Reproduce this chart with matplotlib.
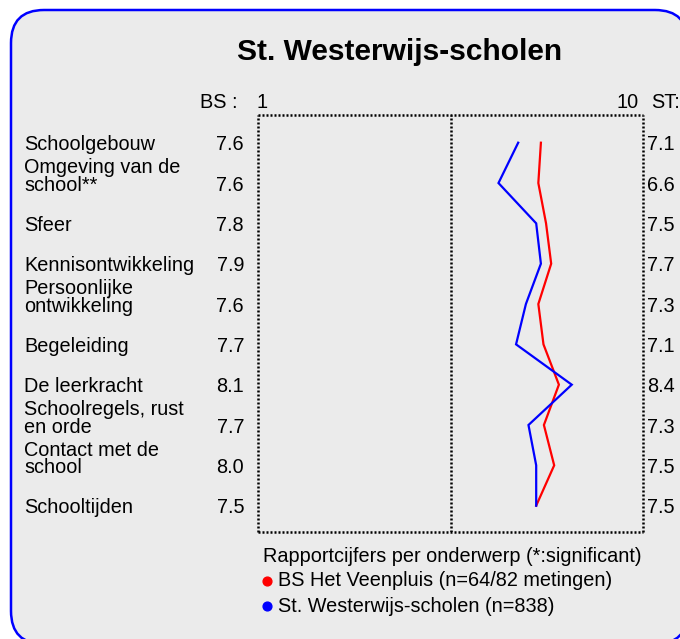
import matplotlib
matplotlib.use("Agg")
import matplotlib.pyplot as plt
from matplotlib.patches import FancyBboxPatch
from matplotlib import transforms

plt.rcParams['font.family'] = ['Liberation Sans', 'DejaVu Sans']

title = "St. Westerwijs-scholen"
topics = ["Schoolgebouw", "Omgeving van de\nschool**", "Sfeer", "Kennisontwikkeling",
          "Persoonlijke\nontwikkeling", "Begeleiding", "De leerkracht",
          "Schoolregels, rust\nen orde", "Contact met de\nschool", "Schooltijden"]
bs_scores = ["7.6", "7.6", "7.8", "7.9", "7.6", "7.7", "8.1", "7.7", "8.0", "7.5"]
st_scores = ["7.1", "6.6", "7.5", "7.7", "7.3", "7.1", "8.4", "7.3", "7.5", "7.5"]
# line positions (scale 1..10)
bs_values = [7.61, 7.55, 7.73, 7.85, 7.55, 7.67, 8.03, 7.68, 7.92, 7.50]
st_values = [7.08, 6.62, 7.50, 7.61, 7.26, 7.03, 8.33, 7.32, 7.50, 7.50]
scale_min, scale_max = 1, 10
legend_title = "Rapportcijfers per onderwerp (*:significant)"
series_names = ["BS Het Veenpluis (n=64/82 metingen)", "St. Westerwijs-scholen (n=838)"]
series_colors = ["#ff0000", "#0000ff"]

W, H = 680, 639
fig = plt.figure(figsize=(W / 100, H / 100), dpi=100)
fig.patch.set_facecolor("white")

ax0 = fig.add_axes([0, 0, 1, 1])
ax0.set_xlim(0, W)
ax0.set_ylim(H, 0)
ax0.axis("off")

box = FancyBboxPatch((11, 10), 677, 634, boxstyle="round,pad=0,rounding_size=33",
                     facecolor="#ebebeb", edgecolor="#0000ff", linewidth=1.8)
ax0.add_patch(box)

FS = 14.3
ax0.text(399.5, 52, title, ha="center", va="center", fontsize=21.5, fontweight="bold")

# plot area
L, R, T, B = 257.7, 643.3, 115.0, 532.3
ax = fig.add_axes([L / W, 1 - B / H, (R - L) / W, (B - T) / H])
ax.set_facecolor("none")
row0, step = 142.7, 40.33
ax.set_xlim(scale_min, scale_max)
ax.set_ylim((B - row0) / step, (T - row0) / step)
ax.set_xticks([])
ax.set_yticks([])
dot = (0, (0.8, 0.8))
for sp in ax.spines.values():
    sp.set_linestyle(dot)
    sp.set_linewidth(1.8)
    sp.set_color("black")
    sp.set_capstyle("butt")
mid = (scale_min + scale_max) / 2
ax.axvline(mid, color="black", lw=1.8, linestyle=dot, dash_capstyle="butt")

rows = list(range(len(topics)))
ax.plot(bs_values, rows, color=series_colors[0], lw=1.6, solid_joinstyle="miter")
ax.plot(st_values, rows, color=series_colors[1], lw=1.6, solid_joinstyle="miter")

# header
ax0.text(237, 103, "BS :", ha="right", va="center", fontsize=FS)
ax0.text(L + 4, 103, str(scale_min), ha="center", va="center", fontsize=FS)
ax0.text(R - 5, 103, str(scale_max), ha="right", va="center", fontsize=FS)
ax0.text(651, 103, "ST:", ha="left", va="center", fontsize=FS)

blend = transforms.blended_transform_factory(ax0.transData, ax.transData)
tr = transforms.offset_copy(blend, fig=fig, x=0, y=-7.5, units="dots")
for i, (lab, b, s) in enumerate(zip(topics, bs_scores, st_scores)):
    ax0.text(24, i, lab, transform=tr, ha="left", va="baseline", fontsize=FS,
             linespacing=0.88)
    ax0.text(244, i, b, transform=tr, ha="right", va="baseline", fontsize=FS)
    ax0.text(647, i, s, transform=tr, ha="left", va="baseline", fontsize=FS)

# legend
ax0.text(263, 556, legend_title, ha="left", va="center", fontsize=FS)
for k, (name, col) in enumerate(zip(series_names, series_colors)):
    y = 581 + 25 * k
    ax0.scatter([267], [y], s=40, color=col, zorder=5)
    ax0.text(278, y, name, ha="left", va="center", fontsize=FS)

fig.savefig("out.png", dpi=100)
